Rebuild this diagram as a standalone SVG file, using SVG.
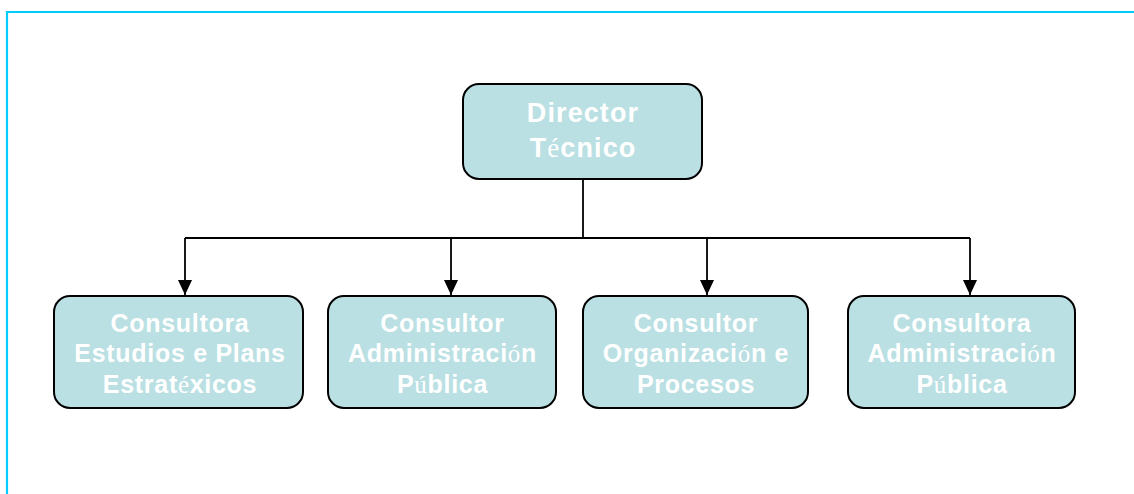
<svg xmlns="http://www.w3.org/2000/svg" width="1134" height="494" viewBox="0 0 1134 494">
<defs>
<marker id="arr" markerWidth="16" markerHeight="16" refX="15" refY="7" orient="auto" markerUnits="userSpaceOnUse" viewBox="0 0 16 14">
<path d="M0,0 L15,7 L0,14 z" fill="#000"/>
</marker>
<style>
.box{fill:#BAE0E3;stroke:#000;stroke-width:2}
.t{font-family:"Liberation Sans",Arial,sans-serif;font-weight:bold;fill:#fff;text-anchor:middle}
.b{font-size:25px;letter-spacing:0.7px}
.d{font-size:27px;letter-spacing:1.1px}
.s{font-family:"Liberation Serif","Times New Roman",serif;font-weight:normal}
.ln{fill:none;stroke:#000;stroke-width:1.8}
</style>
</defs>
<rect width="1134" height="494" fill="#fff"/>
<path d="M7,494 V12 H1134" fill="none" stroke="#00CCFF" stroke-width="2.2"/>
<g id="connectors">
<path class="ln" d="M583,179 V238"/>
<path class="ln" d="M185,238 H970"/>
<path class="ln" d="M185,238 V295" marker-end="url(#arr)"/>
<path class="ln" d="M451,238 V295" marker-end="url(#arr)"/>
<path class="ln" d="M707,238 V295" marker-end="url(#arr)"/>
<path class="ln" d="M970,238 V295" marker-end="url(#arr)"/>
</g>
<g id="director">
<rect class="box" x="463" y="84" width="239" height="95" rx="16"/>
<text class="t d" x="583" y="122">Director</text>
<text class="t d" x="583" y="157">T<tspan class="s">é</tspan>cnico</text>
</g>
<g id="node1">
<rect class="box" x="54" y="296" width="249" height="112" rx="16"/>
<text class="t b" x="180" y="332">Consultora</text>
<text class="t b" x="180" y="362">Estudios e Plans</text>
<text class="t b" x="180" y="393">Estrat<tspan class="s">é</tspan>xicos</text>
</g>
<g id="node2">
<rect class="box" x="328" y="296" width="228" height="112" rx="16"/>
<text class="t b" x="442.5" y="332">Consultor</text>
<text class="t b" x="442.5" y="362">Administraci<tspan class="s">ó</tspan>n</text>
<text class="t b" x="442.5" y="393">P<tspan class="s">ú</tspan>blica</text>
</g>
<g id="node3">
<rect class="box" x="583" y="296" width="225" height="112" rx="16"/>
<text class="t b" x="696" y="332">Consultor</text>
<text class="t b" x="696" y="362">Organizaci<tspan class="s">ó</tspan>n e</text>
<text class="t b" x="696" y="393">Procesos</text>
</g>
<g id="node4">
<rect class="box" x="848" y="296" width="227" height="112" rx="16"/>
<text class="t b" x="962" y="332">Consultora</text>
<text class="t b" x="962" y="362">Administraci<tspan class="s">ó</tspan>n</text>
<text class="t b" x="962" y="393">P<tspan class="s">ú</tspan>blica</text>
</g>
</svg>
